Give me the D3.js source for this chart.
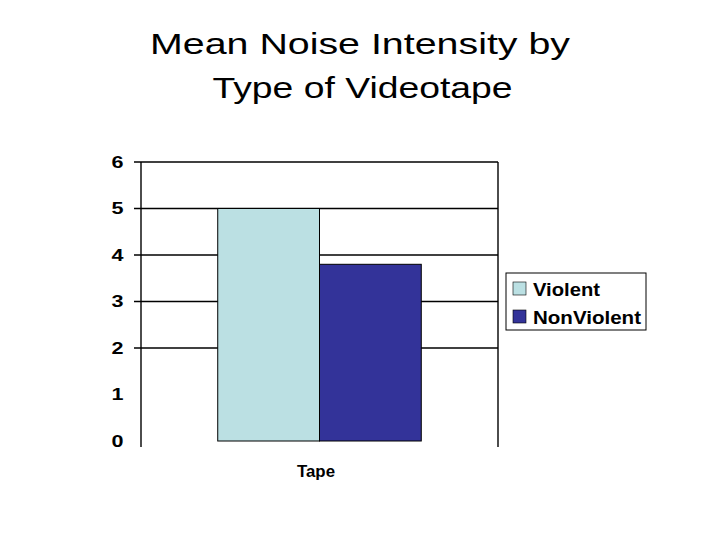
<!DOCTYPE html>
<html>
<head>
<meta charset="utf-8">
<script src="https://cdn.jsdelivr.net/npm/d3@7"></script>
<style>
  html, body { margin: 0; padding: 0; background: #fff; }
  svg { display: block; font-family: "Liberation Sans", Arial, sans-serif; }
</style>
</head>
<body>
<svg id="chart" width="720" height="540"></svg>
<script>
const titleLines = ["Mean Noise Intensity by", "Type of Videotape"];
const categories = ["Tape"];
const seriesNames = ["Violent", "NonViolent"];
const seriesValues = [[5], [3.8]];
const seriesColors = ["#BBE0E3", "#333399"];
const yTicks = [0, 1, 2, 3, 4, 5, 6];
const gridTicks = [2, 3, 4, 5, 6];

const svg = d3.select("#chart");

const plot = { left: 141, right: 498, top: 162, bottom: 441 };

const y = d3.scaleLinear().domain([0, 6]).range([plot.bottom, plot.top]);
const x0 = d3.scaleBand()
  .domain(categories)
  .range([plot.left, plot.right])
  .paddingInner(0)
  .paddingOuter(0.377);
const x1 = d3.scaleBand()
  .domain(seriesNames)
  .range([0, x0.bandwidth()])
  .padding(0);

// the original glyphs are stretched sideways, so widths are fitted
const titleWidths = [420, 300];

// title
svg.append("g")
  .selectAll("text")
  .data(titleLines)
  .join("text")
  .attr("x", (d, i) => 360 + i * 2.5)
  .attr("y", (d, i) => 54 + i * 44)
  .attr("text-anchor", "middle")
  .attr("font-size", 30)
  .attr("fill", "#000")
  .attr("textLength", (d, i) => titleWidths[i])
  .attr("lengthAdjust", "spacingAndGlyphs")
  .text((d) => d);

// gridlines + tick marks
svg.append("g")
  .selectAll("line")
  .data(gridTicks)
  .join("line")
  .attr("x1", plot.left - 7)
  .attr("x2", plot.right)
  .attr("y1", (d) => y(d))
  .attr("y2", (d) => y(d))
  .attr("stroke", "#000")
  .attr("stroke-width", 1.4);

// tick labels
svg.append("g")
  .selectAll("text")
  .data(yTicks)
  .join("text")
  .attr("x", 123.5)
  .attr("y", (d) => y(d))
  .attr("dy", "0.36em")
  .attr("text-anchor", "end")
  .attr("font-size", 16.5)
  .attr("font-weight", "bold")
  .attr("textLength", 12)
  .attr("lengthAdjust", "spacingAndGlyphs")
  .text((d) => d);

// bars
const rows = seriesNames.map((name, i) => ({ name, color: seriesColors[i], values: seriesValues[i] }));
svg.append("g")
  .selectAll("g")
  .data(rows)
  .join("g")
  .attr("fill", (d) => d.color)
  .selectAll("rect")
  .data((d) => d.values.map((v, j) => ({ name: d.name, cat: categories[j], value: v })))
  .join("rect")
  .attr("x", (d) => x0(d.cat) + x1(d.name))
  .attr("y", (d) => y(d.value))
  .attr("width", x1.bandwidth())
  .attr("height", (d) => y(0) - y(d.value))
  .attr("stroke", "#000")
  .attr("stroke-width", 1);

// vertical frame lines
svg.append("g")
  .selectAll("line")
  .data([plot.left, plot.right])
  .join("line")
  .attr("x1", (d) => d)
  .attr("x2", (d) => d)
  .attr("y1", plot.top)
  .attr("y2", plot.bottom + 6)
  .attr("stroke", "#000")
  .attr("stroke-width", 1.4);

// category label
svg.append("g")
  .selectAll("text")
  .data(categories)
  .join("text")
  .attr("x", (d) => x0(d) + x0.bandwidth() / 2 - 3.5)
  .attr("y", 477)
  .attr("text-anchor", "middle")
  .attr("font-size", 17)
  .attr("font-weight", "bold")
  .attr("textLength", 38)
  .attr("lengthAdjust", "spacingAndGlyphs")
  .text((d) => d);

// legend
const legendWidths = [67, 108];
const legend = svg.append("g").attr("transform", "translate(506,273)");
legend.append("rect")
  .attr("width", 140)
  .attr("height", 57)
  .attr("fill", "#fff")
  .attr("stroke", "#000")
  .attr("stroke-width", 1);
const items = legend.selectAll("g")
  .data(rows)
  .join("g")
  .attr("transform", (d, i) => `translate(7,${9 + i * 28})`);
items.append("rect")
  .attr("width", 13)
  .attr("height", 13)
  .attr("fill", (d) => d.color)
  .attr("stroke", "#000")
  .attr("stroke-width", 0.6);
items.append("text")
  .attr("x", 20)
  .attr("y", 14)
  .attr("font-size", 18)
  .attr("font-weight", "bold")
  .attr("textLength", (d, i) => legendWidths[i])
  .attr("lengthAdjust", "spacingAndGlyphs")
  .text((d) => d.name);
</script>
</body>
</html>
